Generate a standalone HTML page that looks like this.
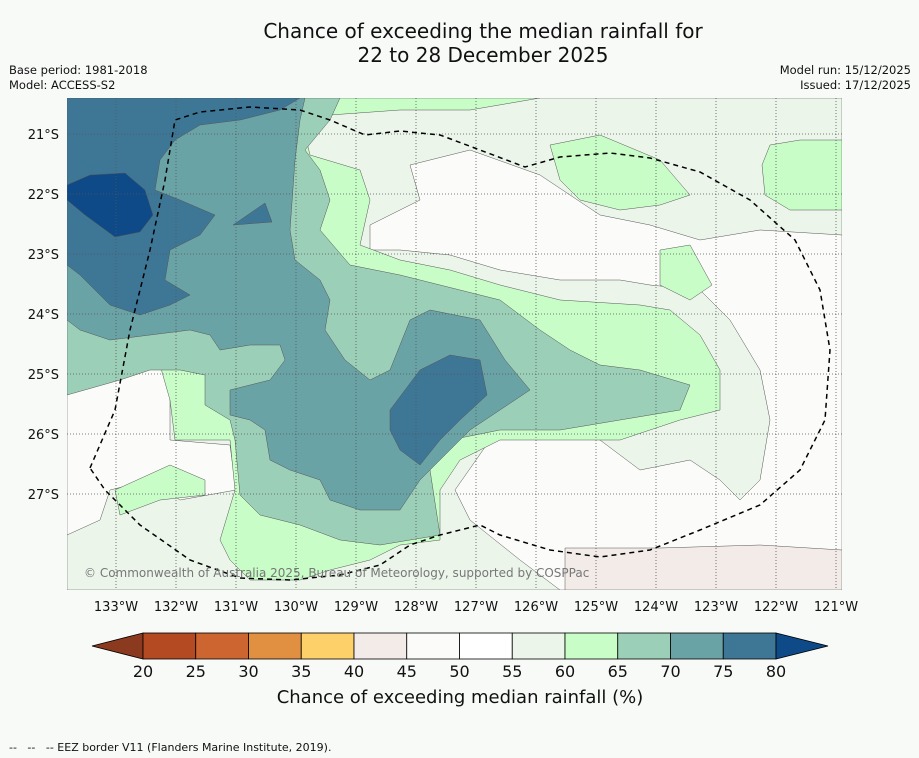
<!DOCTYPE html>
<html><head><meta charset="utf-8">
<style>
body{margin:0;background:#f8faf8;font-family:"Liberation Sans","DejaVu Sans",sans-serif;}
#wrap{position:relative;width:919px;height:758px;overflow:hidden;background:#f8faf8}
.t{position:absolute;color:#111}
</style></head><body>
<div id="wrap">
<div class="t" style="left:0;width:966px;top:19px;text-align:center;font-size:20px;line-height:24px;font-family:'DejaVu Sans',sans-serif">Chance of exceeding the median rainfall for<br>22 to 28 December 2025</div>
<div class="t" style="left:9px;top:63px;font-size:11.5px;line-height:15px;font-family:'DejaVu Sans',sans-serif">Base period: 1981-2018<br>Model: ACCESS-S2</div>
<div class="t" style="right:8px;top:63px;font-size:11.5px;line-height:15px;text-align:right;font-family:'DejaVu Sans',sans-serif">Model run: 15/12/2025<br>Issued: 17/12/2025</div>
<svg id="svg" width="919" height="758" style="position:absolute;left:0;top:0" font-family="DejaVu Sans, sans-serif">
<defs><clipPath id="mc"><rect x="67" y="98" width="775" height="492"/></clipPath></defs>
<g clip-path="url(#mc)" stroke="#555" stroke-width="0.5">
<rect x="67" y="98" width="775" height="492" fill="#ebf5ea"/>
<polygon fill="#fbfcfa" points="410,165 470,150 540,175 600,215 650,225 700,240 760,230 842,235 842,590 560,590 520,560 470,520 455,490 490,440 540,425 600,440 640,470 690,460 720,480 740,500 760,480 770,420 760,370 730,320 700,290 650,285 620,280 560,280 500,270 450,255 400,250 370,250 370,225 420,200"/>
<polygon fill="#fbfcfa" points="67,370 100,360 160,365 170,390 170,440 230,445 236,490 180,500 150,480 110,490 100,520 67,535"/>
<polygon fill="#f2ebe8" points="565,548 660,548 760,545 842,550 842,590 565,590"/>
<polygon fill="#c8fdc8" points="300,98 540,98 470,110 400,110 330,115 305,135 310,155 360,170 370,200 360,245 400,260 450,270 500,285 560,300 640,305 670,310 700,335 720,370 720,410 680,420 620,440 540,440 500,440 460,460 440,490 440,540 400,545 370,560 330,570 300,580 250,580 230,560 220,540 235,490 230,440 175,440 170,400 160,365 100,360 67,370 67,340 130,330 200,330 220,300 250,280 280,260 290,230"/>
<polygon fill="#c8fdc8" points="550,145 600,135 660,160 690,195 660,205 620,210 580,200 560,180"/>
<polygon fill="#c8fdc8" points="770,145 800,140 842,140 842,210 790,210 765,195 762,165"/>
<polygon fill="#c8fdc8" points="660,250 690,245 712,285 690,300 660,285"/>
<polygon fill="#c8fdc8" points="115,490 170,465 205,480 205,495 160,500 120,515"/>
<polygon fill="#9ccfb8" points="67,98 340,98 330,120 305,150 320,170 330,200 320,230 350,265 400,275 440,285 500,300 540,330 570,350 600,365 640,370 690,385 680,410 620,420 560,430 500,430 450,440 430,470 440,535 380,545 340,540 300,525 260,515 240,495 235,440 230,420 205,405 205,375 180,370 150,370 120,380 67,395"/>
<polygon fill="#6aa3a6" points="67,98 305,98 300,120 295,160 290,230 295,260 320,280 330,300 325,330 345,360 370,380 390,370 410,320 430,310 480,320 505,360 530,390 500,410 470,430 440,460 420,480 400,510 360,510 330,500 320,480 290,470 270,460 265,430 250,420 230,415 230,390 270,380 285,360 280,345 250,345 220,350 210,335 190,330 150,335 110,340 80,330 67,320"/>
<polygon fill="#3e7796" points="67,98 300,98 280,110 240,120 200,125 175,140 160,160 155,190 180,200 215,215 200,235 170,250 165,280 190,295 170,305 140,315 110,305 80,275 67,265"/>
<polygon fill="#3e7796" points="233,225 265,203 272,222"/>
<polygon fill="#3e7796" points="390,410 420,370 450,355 480,360 487,395 460,420 440,440 420,465 400,450 390,430"/>
<polygon fill="#0e4a87" points="67,185 90,175 125,173 145,190 153,215 140,232 115,237 85,215 67,200"/>
<g id="grid" stroke="#555" stroke-width="0.8" stroke-dasharray="1,2" fill="none"></g>
<path fill="none" stroke="#000" stroke-width="1.5" stroke-dasharray="5,4" d="M90,468 L115,410 130,330 150,250 165,180 175,120 200,112 250,107 300,110 330,120 365,135 400,131 440,135 480,150 525,167 560,157 610,153 650,158 700,172 750,200 795,240 820,290 830,350 825,420 800,470 760,505 700,530 650,550 600,557 550,550 500,535 480,525 440,535 410,545 380,565 340,575 290,580 240,578 190,560 140,525 105,490 Z"/>
</g>
<text x="84" y="577" font-size="12" fill="#777">© Commonwealth of Australia 2025, Bureau of Meteorology, supported by COSPPac</text>
<g id="axes" font-size="13" fill="#111"></g>
<g id="cbar"></g>
<text x="460" y="703" text-anchor="middle" font-size="18" fill="#111">Chance of exceeding median rainfall (%)</text>
<text x="9" y="751" font-size="11" fill="#111" xml:space="preserve">--   --   -- EEZ border V11 (Flanders Marine Institute, 2019).</text>
</svg>
</div>
<script>
const lonTicks=[133,132,131,130,129,128,127,126,125,124,123,122,121];
const latTicks=[21,22,23,24,25,26,27];
const levels=[20,25,30,35,40,45,50,55,60,65,70,75,80];
const levelColors=["#b34a22","#cd6530","#e09040","#fdd06a","#f2ebe8","#fbfcfa","#ffffff","#ebf5ea","#c8fdc8","#9ccfb8","#6aa3a6","#3e7796"];
const NS="http://www.w3.org/2000/svg";
const xLon=l=>116+(133-l)*60;
const yLat=l=>134+(l-21)*60;
const grid=document.getElementById('grid'),axes=document.getElementById('axes'),cbar=document.getElementById('cbar');
function mk(tag,attrs,parent){const e=document.createElementNS(NS,tag);for(const k in attrs)e.setAttribute(k,attrs[k]);parent.appendChild(e);return e;}
lonTicks.forEach(l=>{
 const ln=mk('line',{x1:xLon(l),x2:xLon(l),y1:98,y2:590},grid);
 
 
 const t=mk('text',{x:xLon(l),y:611,'text-anchor':'middle'},axes);t.textContent=l+'°W';
 
 
});
latTicks.forEach(l=>{
 const ln=mk('line',{x1:67,x2:842,y1:yLat(l),y2:yLat(l)},grid);
 
 
 const t=mk('text',{x:59,y:yLat(l)+5,'text-anchor':'end'},axes);t.textContent=l+'°S';
 
 
});
const cx=v=>143+(v-20)*(776-143)/60, cy0=633, cy1=659;
const lt=mk('polygon',{points:`92,646 ${cx(20)},${cy0} ${cx(20)},${cy1}`,fill:'#8b3a1f',stroke:'#000','stroke-width':0.8},cbar);


levelColors.forEach((c,i)=>{
 const r=mk('rect',{x:cx(levels[i]),y:cy0,width:cx(levels[i+1])-cx(levels[i]),height:cy1-cy0,fill:c,stroke:'#000','stroke-width':0.8},cbar);
 
 
});
const rt=mk('polygon',{points:`${cx(80)},${cy0} 828,646 ${cx(80)},${cy1}`,fill:'#0e4a87',stroke:'#000','stroke-width':0.8},cbar);


levels.forEach(v=>{
 const t=mk('text',{x:cx(v),y:677,'text-anchor':'middle','font-size':16,fill:'#111'},cbar);t.textContent=v;
 
 
});
</script>
</body></html>
